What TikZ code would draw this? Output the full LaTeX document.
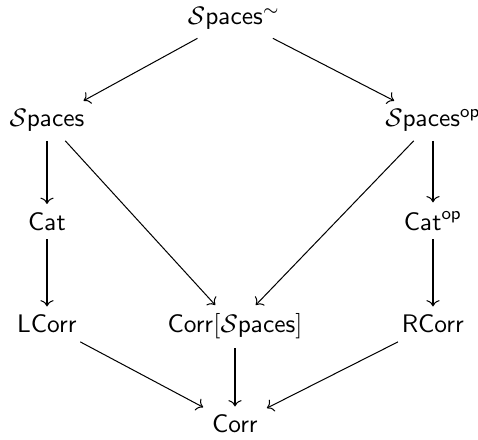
\documentclass[tikz,border=0pt]{standalone}
\usetikzlibrary{cd}
\begin{document}
\begin{tikzpicture}[x=0.394pt,y=-0.394pt,
  cell/.style={anchor=base, inner sep=3.3pt},
  arr/.style={draw, -{cm to}, line width=0.4pt}]
\useasboundingbox (0,0) rectangle (478,440);
% row 1
\node[cell] (top) at (234,24.5) {$\mathcal{S}\mathsf{paces}^{\sim}$};
% row 2
\node[cell] (sp)  at (47,127) {$\mathcal{S}\mathsf{paces}$};
\node[cell] (spo) at (433,127) {$\mathcal{S}\mathsf{paces}^{\mathsf{op}}$};
% row 3
\node[cell] (cat)  at (47,230.5) {$\mathsf{Cat}$};
\node[cell] (cato) at (433,230.5) {$\mathsf{Cat}^{\mathsf{op}}$};
% row 4
\node[cell] (lc) at (47,333) {$\mathsf{LCorr}$};
\node[cell] (cs) at (235,333) {$\mathsf{Corr}[\mathcal{S}\mathsf{paces}]$};
\node[cell] (rc) at (433,333) {$\mathsf{RCorr}$};
% row 5
\node[cell] (corr) at (235,433) {$\mathsf{Corr}$};
% arrows
\path[arr] (top) -- (sp);
\path[arr] (top) -- (spo);
\path[arr] (sp) -- (cat);
\path[arr] (cat) -- (lc);
\path[arr] (spo) -- (cato);
\path[arr] (cato) -- (rc);
\path[arr] (sp) -- (cs);
\path[arr] (spo) -- (cs);
\path[arr] (cs) -- (corr);
\path[arr] (lc) -- (corr);
\path[arr] (rc) -- (corr);
\end{tikzpicture}
\end{document}
